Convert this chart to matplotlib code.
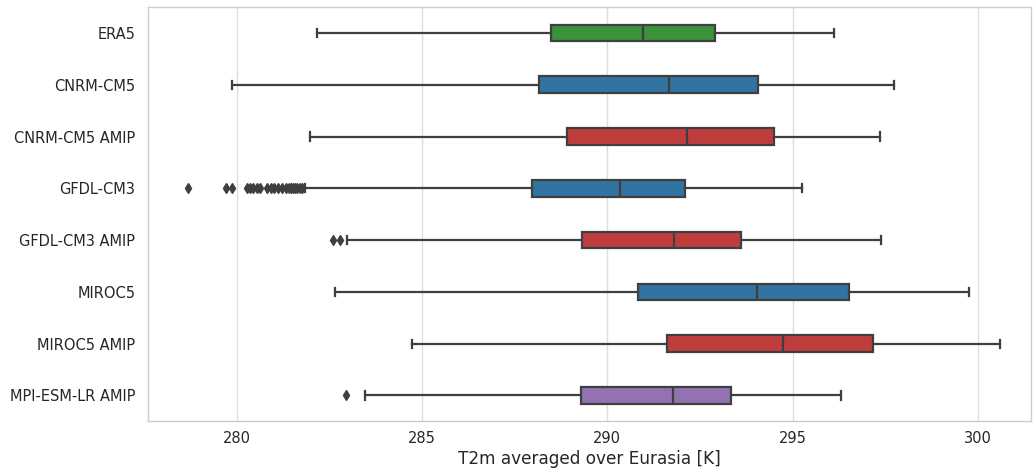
import numpy as np
import matplotlib
matplotlib.use('Agg')
import matplotlib.pyplot as plt

# box statistics
models = ['ERA5', 'CNRM-CM5', 'CNRM-CM5 AMIP', 'GFDL-CM3', 'GFDL-CM3 AMIP',
          'MIROC5', 'MIROC5 AMIP', 'MPI-ESM-LR AMIP']
whislo = [282.16, 279.88, 281.98, 281.84, 282.97, 282.66, 284.72, 283.45]
q1 = [288.48, 288.17, 288.90, 287.96, 289.31, 290.82, 291.62, 289.29]
med = [290.95, 291.66, 292.15, 290.35, 291.79, 294.03, 294.75, 291.76]
q3 = [292.91, 294.07, 294.50, 292.10, 293.62, 296.52, 297.17, 293.34]
whishi = [296.11, 297.74, 297.36, 295.25, 297.38, 299.76, 300.60, 296.30]
fliers = [
    [],
    [],
    [],
    [278.69, 279.71, 279.87, 280.28, 280.36, 280.45, 280.55, 280.64, 280.82,
     280.93, 281.02, 281.12, 281.22, 281.33, 281.40, 281.47, 281.53, 281.58,
     281.64, 281.70, 281.76],
    [282.59, 282.79],
    [],
    [],
    [282.94],
]
colors = ['#3a923a', '#3274a1', '#c03d3e', '#3274a1', '#c03d3e',
          '#3274a1', '#c03d3e', '#9372b2']

fig = plt.figure(figsize=(10.33, 4.69), dpi=100)
ax = fig.add_axes([0.143, 0.1015, 0.855, 0.8835])

stats = []
for i in range(len(models)):
    stats.append({'whislo': whislo[i], 'q1': q1[i], 'med': med[i], 'q3': q3[i],
                  'whishi': whishi[i], 'fliers': fliers[i], 'label': models[i]})

lc = '#3f3f3f'
bp = ax.bxp(stats, positions=np.arange(len(models)), widths=0.32, vert=False,
            patch_artist=True,
            boxprops=dict(edgecolor=lc, linewidth=1.6),
            medianprops=dict(color=lc, linewidth=1.6),
            whiskerprops=dict(color=lc, linewidth=1.6),
            capprops=dict(color=lc, linewidth=1.6),
            flierprops=dict(marker='d', markerfacecolor=lc, markeredgecolor=lc,
                            markersize=5, linestyle='none'))
for patch, c in zip(bp['boxes'], colors):
    patch.set_facecolor(c)

ax.set_ylim(len(models) - 0.5, -0.5)
ax.set_xlim(277.6, 301.43)
ax.set_xticks([280, 285, 290, 295, 300])
ax.set_yticks(np.arange(len(models)))
ax.set_yticklabels(models)
ax.grid(axis='x', color='#dddddd', linewidth=1.0)
ax.set_axisbelow(True)
for s in ax.spines.values():
    s.set_color('#cccccc')
    s.set_linewidth(1.0)
ax.tick_params(length=0, labelsize=10.5, labelcolor='#262626')
ax.tick_params(axis='x', pad=7)
ax.tick_params(axis='y', pad=9)
ax.set_xlabel('T2m averaged over Eurasia [K]', fontsize=12.2, color='#262626', labelpad=3)

fig.savefig('out.png', dpi=100)
